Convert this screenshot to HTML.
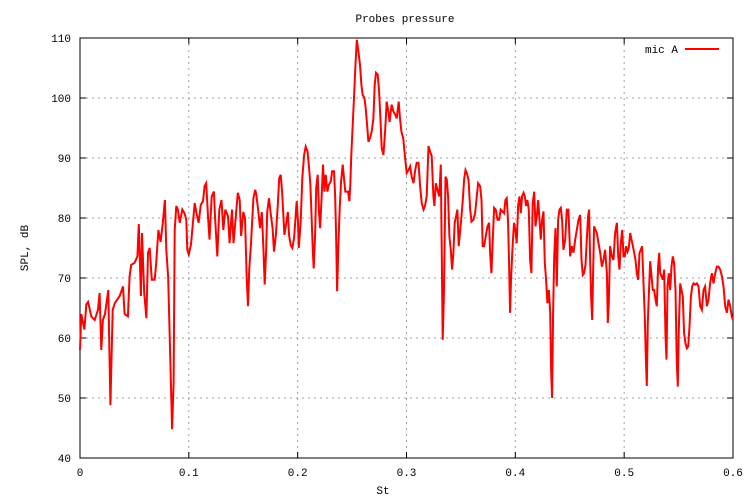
<!DOCTYPE html>
<html><head><meta charset="utf-8"><style>
body{margin:0;background:#fff}
svg{display:block;font-family:"Liberation Mono","DejaVu Sans Mono",monospace;font-size:11px}
</style></head><body>
<svg id="chart" width="750" height="500" viewBox="0 0 750 500" xmlns="http://www.w3.org/2000/svg">
<rect width="750" height="500" fill="#fff"/>
<g id="grid"></g>
<g id="ticks"></g>
<rect x="80" y="38" width="653" height="420" fill="none" stroke="#000" stroke-width="1"/>
<text x="405" y="22" text-anchor="middle">Probes pressure</text>
<text x="383" y="494" text-anchor="middle">St</text>
<text x="0" y="0" transform="translate(28,248) rotate(-90)" text-anchor="middle">SPL, dB</text>
<g>
<text x="678" y="53" text-anchor="end">mic A</text>
<line x1="685" y1="49" x2="719" y2="49" stroke="#ff0000" stroke-width="2"/>
</g>
<path id="series" fill="none" stroke="#ff0000" stroke-width="2" stroke-linejoin="miter"/>
</svg>
<script>
const xTicks=[0,0.1,0.2,0.3,0.4,0.5,0.6];
const xTickLabels=["0","0.1","0.2","0.3","0.4","0.5","0.6"];
const yTicks=[40,50,60,70,80,90,100,110];
const yTickLabels=["40","50","60","70","80","90","100","110"];
const stValues=[0,0.0012,0.004,0.0058,0.0074,0.0104,0.0135,0.0165,0.018,0.0196,0.021,0.023,0.026,0.0279,0.030,0.032,0.0365,0.0395,0.041,0.044,0.0456,0.047,0.050,0.0527,0.054,0.056,0.057,0.059,0.061,0.0625,0.064,0.066,0.0686,0.070,0.072,0.0741,0.076,0.078,0.0793,0.081,0.0824,0.0846,0.086,0.087,0.0885,0.090,0.0916,0.094,0.096,0.0977,0.0986,0.100,0.102,0.104,0.1054,0.107,0.109,0.111,0.113,0.1145,0.116,0.1176,0.119,0.121,0.123,0.124,0.1262,0.128,0.130,0.1317,0.1335,0.136,0.1375,0.1397,0.141,0.1437,0.145,0.1467,0.148,0.150,0.1516,0.1532,0.1544,0.1556,0.157,0.158,0.1593,0.161,0.162,0.1639,0.1654,0.167,0.1685,0.1697,0.171,0.172,0.1737,0.175,0.177,0.1783,0.180,0.1817,0.183,0.1844,0.1857,0.187,0.1878,0.1893,0.191,0.192,0.1936,0.1951,0.1967,0.198,0.1991,0.2003,0.201,0.2028,0.2043,0.2059,0.2074,0.209,0.2105,0.2117,0.2126,0.2138,0.2147,0.216,0.217,0.2184,0.2196,0.2206,0.222,0.2233,0.2246,0.2258,0.2273,0.2285,0.2304,0.2316,0.2334,0.2344,0.2353,0.2362,0.2374,0.2386,0.2399,0.2414,0.2426,0.2438,0.245,0.2463,0.2475,0.2484,0.2493,0.2506,0.2518,0.253,0.2543,0.2558,0.2573,0.2586,0.2598,0.2613,0.2625,0.2638,0.265,0.2665,0.268,0.2696,0.2708,0.272,0.2735,0.2748,0.276,0.2772,0.2788,0.2803,0.2818,0.2833,0.2845,0.2863,0.2879,0.2897,0.291,0.2928,0.294,0.2953,0.297,0.2987,0.3002,0.3018,0.3033,0.3048,0.3064,0.308,0.3094,0.311,0.3125,0.314,0.3156,0.317,0.3186,0.3202,0.3217,0.3232,0.3247,0.3256,0.3269,0.3284,0.33,0.3315,0.3324,0.3333,0.3345,0.3358,0.337,0.3382,0.3394,0.3407,0.3419,0.3431,0.3443,0.3456,0.3468,0.348,0.3493,0.3505,0.3517,0.3529,0.3542,0.3554,0.357,0.3585,0.3597,0.3615,0.363,0.3646,0.3658,0.3676,0.3689,0.37,0.3713,0.3728,0.3744,0.3759,0.3768,0.378,0.3793,0.3805,0.382,0.3836,0.3851,0.3866,0.3881,0.3897,0.3909,0.3921,0.3933,0.3942,0.3952,0.396,0.3973,0.3988,0.4001,0.4013,0.4025,0.4038,0.405,0.4062,0.4075,0.4087,0.4099,0.4111,0.4124,0.4136,0.4148,0.416,0.4173,0.4185,0.4197,0.421,0.4222,0.4234,0.4246,0.4259,0.4271,0.4283,0.4295,0.4308,0.432,0.4329,0.4338,0.4347,0.4357,0.4369,0.4381,0.4393,0.4406,0.4418,0.443,0.4442,0.4458,0.4473,0.4488,0.4504,0.4519,0.4534,0.455,0.4565,0.458,0.4596,0.4608,0.462,0.4632,0.4645,0.4657,0.4669,0.4678,0.4688,0.4697,0.4706,0.4715,0.4724,0.4737,0.4749,0.4764,0.478,0.4795,0.481,0.4825,0.4841,0.485,0.4859,0.4871,0.4887,0.4902,0.4917,0.4933,0.4945,0.4957,0.4969,0.4982,0.4994,0.5006,0.5018,0.5031,0.5043,0.5055,0.5067,0.508,0.5092,0.5104,0.5116,0.5129,0.5141,0.5153,0.5165,0.5178,0.519,0.5199,0.5208,0.5217,0.5227,0.5239,0.5251,0.5263,0.5276,0.5288,0.53,0.5312,0.5322,0.5331,0.5343,0.5355,0.5368,0.538,0.5389,0.5398,0.541,0.5423,0.5435,0.5447,0.5459,0.5472,0.5484,0.5493,0.5502,0.5515,0.5527,0.5539,0.5551,0.5564,0.5576,0.5588,0.56,0.5613,0.5625,0.5637,0.5653,0.5668,0.5683,0.5699,0.5714,0.5729,0.5744,0.576,0.5775,0.579,0.5806,0.5821,0.5836,0.5852,0.5867,0.5882,0.5898,0.5913,0.5928,0.5944,0.5959,0.5974,0.5989,0.6];
const splValues=[58,64,61.4,65.6,66,63.6,63,64.7,67.5,58,63,64,68,48.8,64.7,65.8,67,68.6,64,63.6,70.3,72.2,72.5,73.6,79,67,77.5,67.5,63.3,74.2,75,69.7,69.7,72.5,78,76,79,83,74.7,70,60.3,44.8,52.5,78,82,81.4,79.2,81.4,80.8,79.7,74.7,73.9,75.6,79.7,82.5,80.8,79.2,82.2,82.8,85.3,85.8,80.3,76.4,83.6,84.4,80.3,73.6,81.4,83,78,81.4,80.3,75.8,81.4,75.8,81.4,84.2,83,77,81,80,70,65.3,71.6,75.5,78.9,83.3,84.7,83.9,81,78.3,81,75,68.9,74.4,81,83.3,81,78.3,74.4,77.2,82.2,86.6,87.2,84.4,80,77.2,78.9,81,77.2,75.5,75,76.7,80,82.8,79.4,75,79.4,86.6,90.5,91.9,91.1,88.3,85.5,81,75,71.6,77.2,85,87.2,81,78.3,83.3,88.9,84.4,87.2,84.4,85.5,86.1,87.8,87.8,83.9,77.2,67.8,75.5,81.6,86.1,88.9,86.6,84.4,84.4,84.4,82.8,85.5,90.5,95.5,100,105,109.7,107.8,105.5,102.2,100.5,100,98.3,95.5,92.7,93.3,94.4,96.6,102.2,104.2,103.9,101.1,96.6,91.7,90.5,94.4,99.4,97.8,96,98.9,97.8,97.2,96.6,99.4,96.6,94.4,93.3,90,87.5,88,88.6,86.9,85.8,88,89.2,89.2,85.3,82.5,81.4,82,83.6,92,91.1,90.3,83.6,82,85.8,84.7,83.6,88.9,73.6,59.7,68,86.9,86.4,83.6,76.9,74.7,71.4,74.2,79.2,80.3,81.4,75.3,78,80.3,83,86.4,88,87.5,86.4,81.4,79.4,79.7,80.8,83.6,85.8,85.3,83,75.3,75.3,76.9,78.6,79.2,74.2,70.8,76.4,81.7,81.4,79.7,79.7,81.4,81.1,80.8,83,83.3,79.7,73,64.2,69.7,74.7,79.2,78,75.8,82,83.6,80.8,83.6,84.2,83.6,82,83,81.4,73,70.8,82.5,84.4,78.6,80.3,83,79.7,76.4,79.7,81.1,72.5,69.7,65.8,68,64.2,54.7,50,64.2,73.6,78.3,68.6,79.7,81.4,81.7,79.7,74.7,76.4,81.4,81.4,73.6,75.3,74.2,76.4,78,79.7,80.5,73,70.5,70.8,72.2,76.4,80.3,81.4,72.5,66.4,63,70.8,78.6,78,77.5,75.8,74.2,71.9,73,74.7,70.8,62.5,65.8,75.3,73.6,73,77.5,79.2,73.6,71.4,75.8,78,73.6,73.6,75.3,74.4,75,77.5,76.4,75.3,74.2,73,70.8,69.7,74.2,74.7,75.3,69.1,63.6,56.9,52,62.5,67.5,72.8,70.3,68,68,66.4,65.3,71.9,74.2,70.8,70.3,69.7,71.4,60.3,56.4,68.6,70.8,68,71.9,73.6,72.5,68,55.8,51.9,61.4,69.1,68,66.9,60.8,59.1,58.3,58.6,61.9,66.9,68.6,69.1,68.9,69.1,68.6,65.3,64.7,68,68.6,65.3,66.4,69.1,70.8,69.1,70.8,71.9,71.9,71.4,70.3,68.6,65.3,64.2,66.4,65.3,63.6,63];

const L=80,R=733,T=38,B=458;
const xScale=v=>L+(v-0)/(0.6-0)*(R-L);
const yScale=v=>B-(v-40)/(110-40)*(B-T);
const NS='http://www.w3.org/2000/svg';
const grid=document.getElementById('grid'),ticks=document.getElementById('ticks'),svg=document.getElementById('chart');
function mk(tag,attrs,parent){const e=document.createElementNS(NS,tag);for(const k in attrs)e.setAttribute(k,attrs[k]);parent.appendChild(e);return e;}
xTicks.forEach((v,i)=>{
  const x=xScale(v);
  if(i>0&&i<xTicks.length-1){const g=mk('line',{x1:x,y1:T,x2:x,y2:B,stroke:'#a0a0a0','stroke-dasharray':'2,4','stroke-width':1},grid);
  
  }
  const t1=mk('line',{x1:x,y1:B,x2:x,y2:B-6,stroke:'#000'},ticks);
  
  
  const t2=mk('line',{x1:x,y1:T,x2:x,y2:T+6,stroke:'#000'},ticks);
  
  
  const lb=mk('text',{x:x,y:476,'text-anchor':'middle'},svg);lb.textContent=xTickLabels[i];
  
  
});
yTicks.forEach((v,i)=>{
  const y=yScale(v);
  if(i>0&&i<yTicks.length-1){const g=mk('line',{x1:L,y1:y,x2:R,y2:y,stroke:'#a0a0a0','stroke-dasharray':'2,4','stroke-width':1},grid);
  
  }
  const t1=mk('line',{x1:L,y1:y,x2:L+6,y2:y,stroke:'#000'},ticks);
  
  
  const t2=mk('line',{x1:R,y1:y,x2:R-6,y2:y,stroke:'#000'},ticks);
  
  
  const lb=mk('text',{x:71,y:y+4,'text-anchor':'end'},svg);lb.textContent=yTickLabels[i];
  
  
});
let d='';
stValues.forEach((v,i)=>{d+=(i?'L':'M')+xScale(v).toFixed(1)+','+yScale(splValues[i]).toFixed(1);});
document.getElementById('series').setAttribute('d',d);
</script>
</body></html>
